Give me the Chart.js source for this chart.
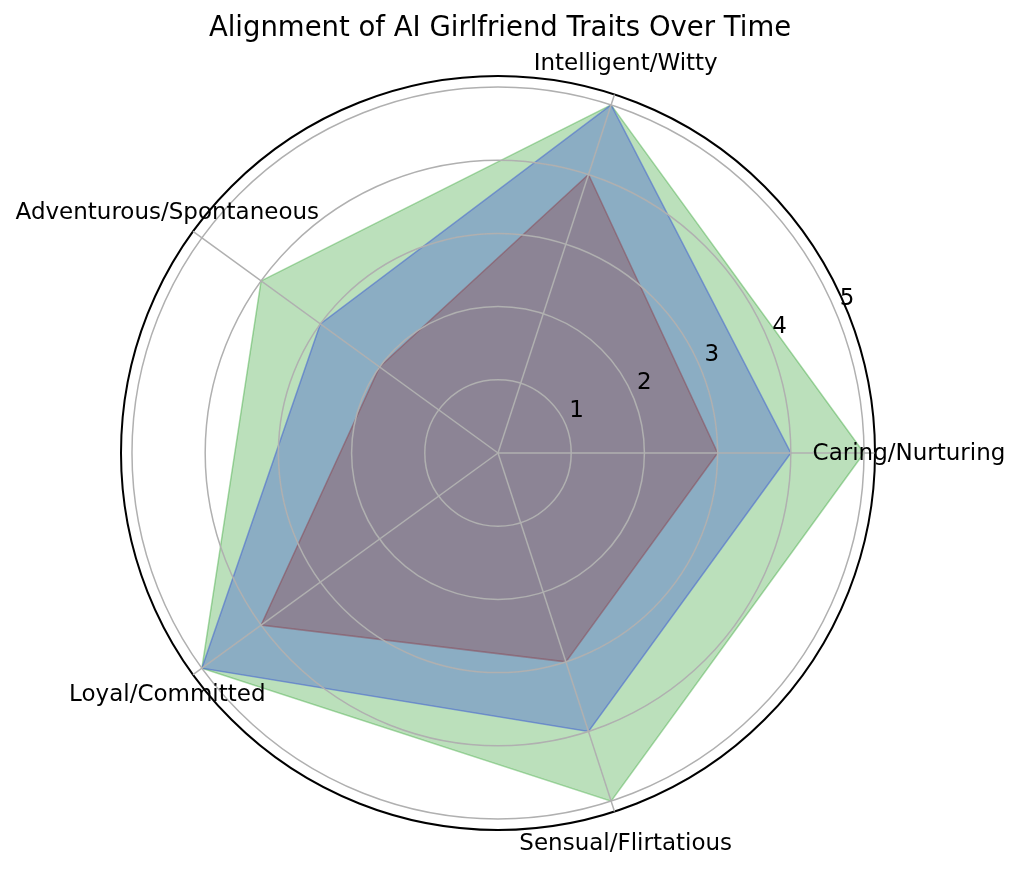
<!DOCTYPE html>
<html>
<head>
<meta charset="utf-8">
<title>Alignment of AI Girlfriend Traits Over Time</title>
<script src="https://cdn.jsdelivr.net/npm/chart.js@4.4.1/dist/chart.umd.min.js"></script>
<style>
  html, body { margin: 0; padding: 0; background: #fff; }
  #wrap { width: 1024px; height: 870px; position: relative; }
</style>
</head>
<body>
<div id="wrap"><canvas id="radar"></canvas></div>
<script>
const TITLE = 'Alignment of AI Girlfriend Traits Over Time';
// traits in counter-clockwise order, starting at 3 o'clock
const traits = ['Caring/Nurturing', 'Intelligent/Witty', 'Adventurous/Spontaneous', 'Loyal/Committed', 'Sensual/Flirtatious'];
const stageEarly = [3, 4, 2, 4, 3];
const stageMid = [4, 5, 3, 5, 4];
const stageLate = [5, 5, 4, 5, 5];
const rTicks = [1, 2, 3, 4, 5];
const R_MAX = 5.15;

const FONT = '"DejaVu Sans", Verdana, sans-serif';

// Chart.js walks the axes clockwise, so flip everything after the first entry
const cw = arr => [arr[0], ...arr.slice(1).reverse()];

const mplText = {
    id: 'mplText',
    afterDraw(chart) {
        const { ctx } = chart;
        const r = chart.scales.r;
        ctx.save();
        ctx.fillStyle = '#000';
        ctx.textAlign = 'center';
        ctx.textBaseline = 'middle';

        ctx.font = `27.5px ${FONT}`;
        ctx.fillText(TITLE, r.xCenter + 2, 29);

        ctx.font = `23px ${FONT}`;
        const labelDist = r.drawingArea + 33;
        chart.data.labels.forEach((label, i) => {
            const p = r.getPointPosition(i, labelDist);
            ctx.fillText(label, p.x + 1, p.y + 1);
        });

        // radial tick labels sit along 22.5 degrees like matplotlib
        const a = 22.5 * Math.PI / 180;
        rTicks.forEach(v => {
            const d = r.getDistanceFromCenterForValue(v);
            ctx.fillText(String(v), r.xCenter + d * Math.cos(a) + 11, r.yCenter - d * Math.sin(a) - 14);
        });
        ctx.restore();
    }
};

new Chart(document.getElementById('radar').getContext('2d'), {
    type: 'radar',
    data: {
        labels: cw(traits),
        datasets: [
            {
                label: 'Early',
                data: cw(stageEarly),
                backgroundColor: 'rgba(140, 69, 81, 0.4)',
                borderColor: 'rgba(140, 69, 81, 0.5)',
                borderWidth: 1.5,
                fill: true
            },
            {
                label: 'Mid',
                data: cw(stageMid),
                backgroundColor: 'rgba(68, 98, 208, 0.4)',
                borderColor: 'rgba(68, 98, 208, 0.55)',
                borderWidth: 1.5,
                fill: true
            },
            {
                label: 'Late',
                data: cw(stageLate),
                backgroundColor: 'rgba(44, 160, 44, 0.32)',
                borderColor: 'rgba(44, 160, 44, 0.4)',
                borderWidth: 1.5,
                fill: true
            }
        ]
    },
    options: {
        responsive: true,
        maintainAspectRatio: false,
        animation: false,
        layout: { padding: { left: 121, right: 149, top: 76, bottom: 40 } },
        elements: {
            point: { radius: 0, hoverRadius: 0 },
            line: { tension: 0 }
        },
        plugins: {
            legend: { display: false },
            title: { display: false },
            tooltip: { enabled: false }
        },
        scales: {
            r: {
                min: 0,
                max: R_MAX,
                startAngle: 90,
                afterBuildTicks: scale => {
                    scale.ticks = [0, ...rTicks, R_MAX].map(v => ({ value: v }));
                },
                ticks: { display: false },
                pointLabels: { display: false },
                grid: {
                    z: 1, // grid goes over the fills, as in matplotlib
                    circular: true,
                    color: ctx => ctx.tick && ctx.tick.value === R_MAX ? '#000' : '#b0b0b0',
                    lineWidth: ctx => ctx.tick && ctx.tick.value === R_MAX ? 2 : 1.5
                },
                angleLines: { color: '#b0b0b0', lineWidth: 1.5 }
            }
        }
    },
    plugins: [mplText]
});
</script>
</body>
</html>
